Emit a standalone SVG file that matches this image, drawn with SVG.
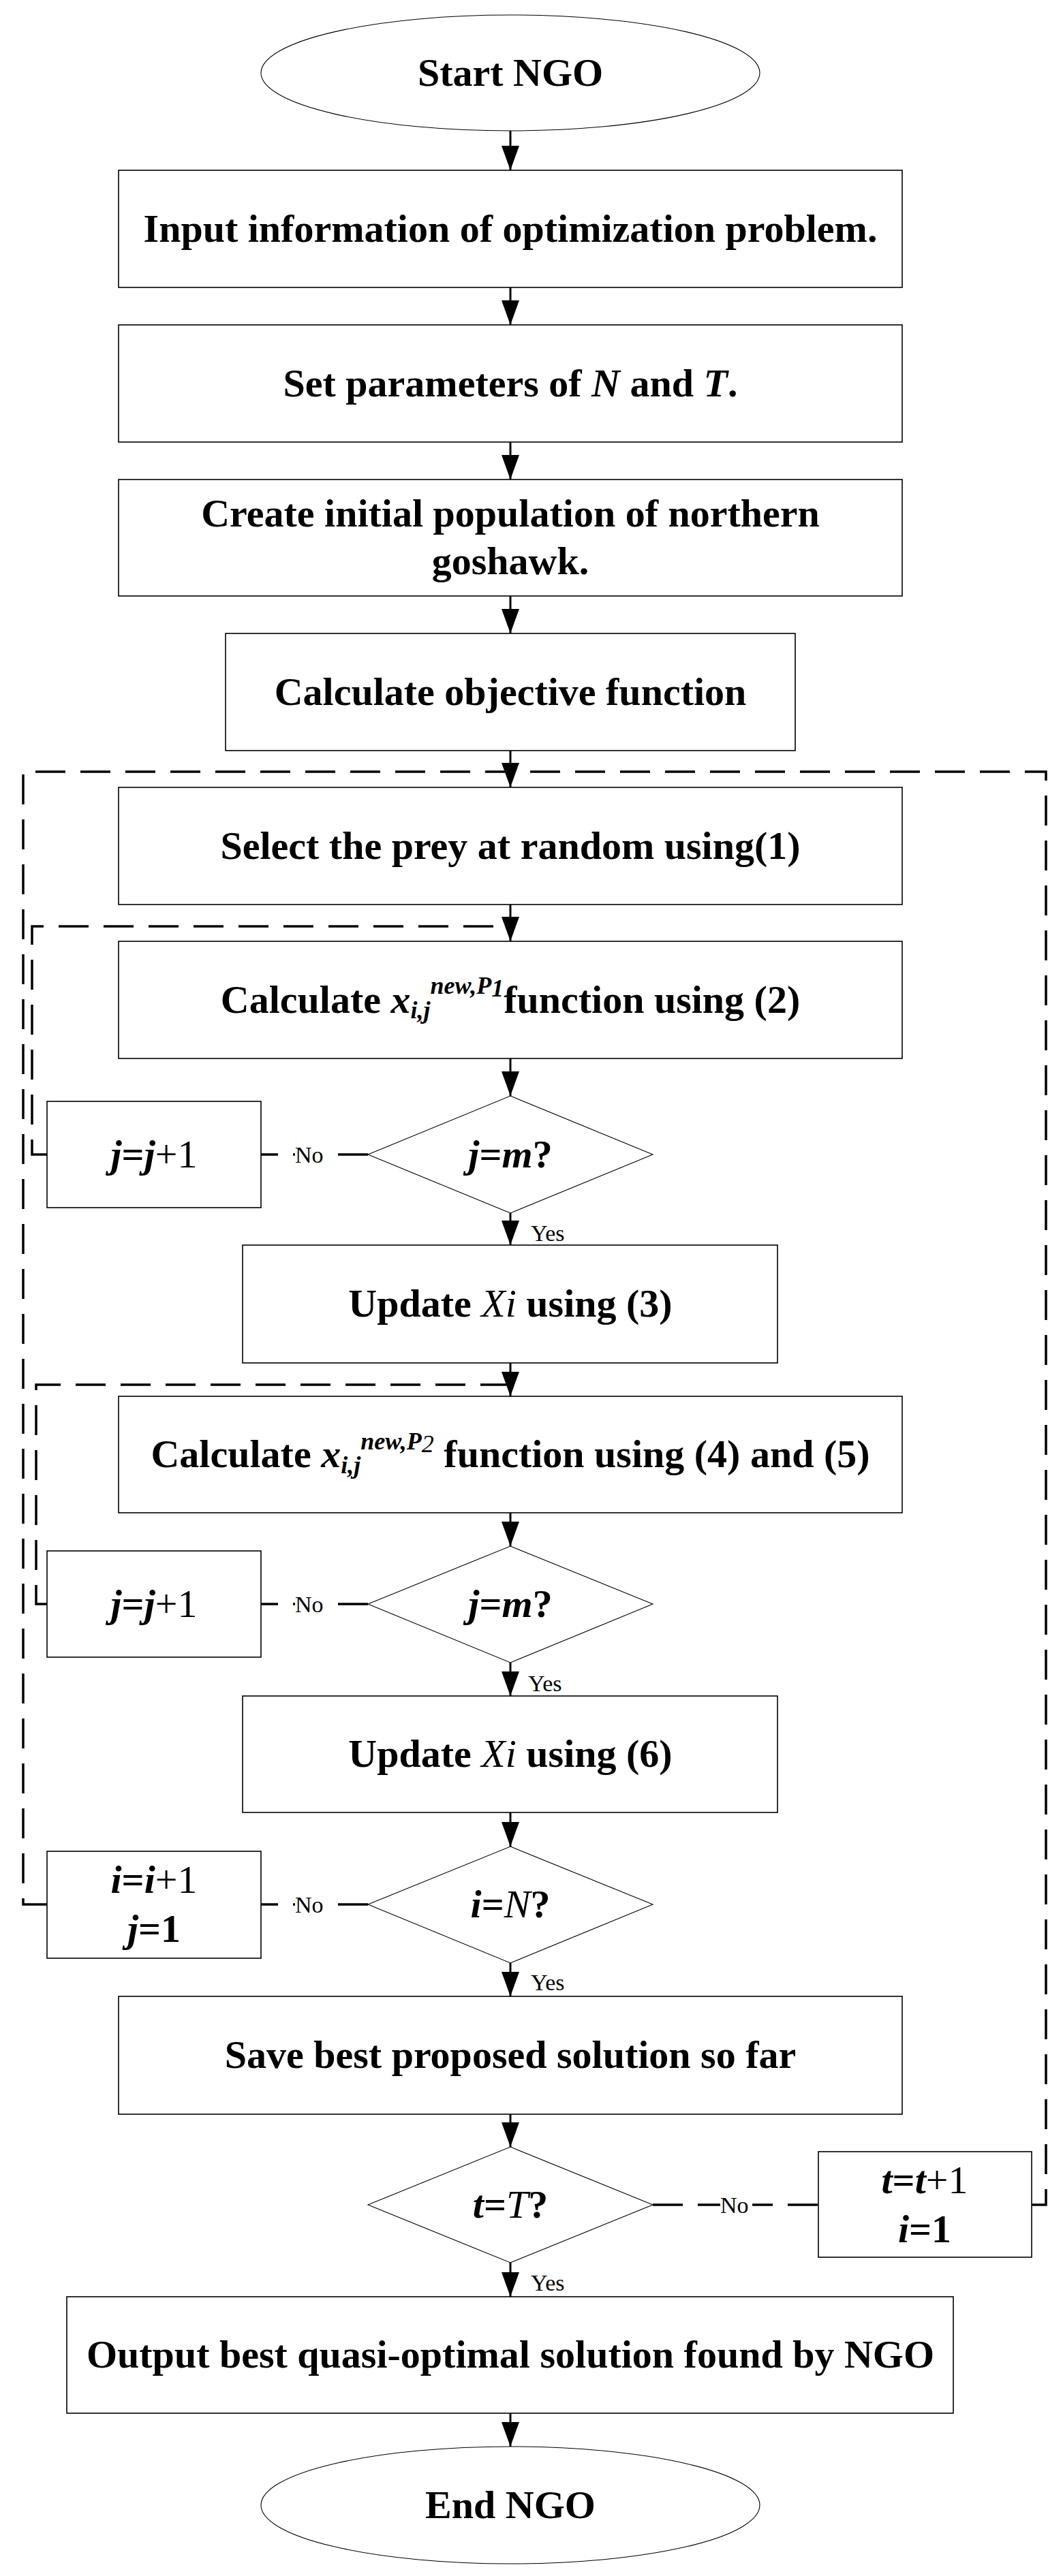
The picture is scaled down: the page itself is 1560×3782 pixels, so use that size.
<svg xmlns="http://www.w3.org/2000/svg" width="1560" height="3782" viewBox="0 0 1560 3782">
<style>
  .bg{fill:#fff}
  .box{fill:#fff;stroke:#000;stroke-width:1.6}
  .shape{fill:#fff;stroke:#000;stroke-width:1.1}
  .t{font-family:"Liberation Serif","Times New Roman",serif;font-size:58px;font-weight:bold;fill:#000;text-anchor:middle}
  .it{font-style:italic}
  .nb{font-weight:normal}
  .sm{font-family:"Liberation Serif","Times New Roman",serif;font-size:34px;fill:#000}
  .sup{font-size:36px;font-style:italic}
  .arrow{stroke:#000;stroke-width:3;fill:none;marker-end:url(#ah)}
  .dash{stroke:#000;stroke-width:3.5;fill:none;stroke-dasharray:44 22}
  .lbl{fill:#fff;stroke:none}
</style>
<defs>
  <marker id="ah" markerUnits="userSpaceOnUse" markerWidth="36" markerHeight="26" refX="36" refY="13" orient="auto">
    <path d="M0,0 L36,13 L0,26 Z" fill="#000"/>
  </marker>
</defs>
<rect class="bg" x="0" y="0" width="1560" height="3782"/>

<g id="connectors">
  <!-- dashed loops -->
  <path class="dash" d="M69,1695 H47 V1360 H749"/>
  <path class="dash" d="M69,2355 H53 V2033 H749"/>
  <path class="dash" d="M69,2796 H34 V1133 H749"/>
  <path class="dash" d="M1514,3237 H1535 V1133 H749"/>
  <!-- No branches -->
  <path class="dash" d="M540,1695 H383"/>
  <path class="dash" d="M540,2355 H383"/>
  <path class="dash" d="M540,2796 H383"/>
  <path class="dash" d="M958,3237 H1201"/>
  <!-- main arrows -->
  <line class="arrow" x1="749" y1="192" x2="749" y2="250"/>
  <line class="arrow" x1="749" y1="422" x2="749" y2="477"/>
  <line class="arrow" x1="749" y1="649" x2="749" y2="704"/>
  <line class="arrow" x1="749" y1="875" x2="749" y2="930"/>
  <line class="arrow" x1="749" y1="1102" x2="749" y2="1156"/>
  <line class="arrow" x1="749" y1="1328" x2="749" y2="1382"/>
  <line class="arrow" x1="749" y1="1554" x2="749" y2="1609"/>
  <line class="arrow" x1="749" y1="1781" x2="749" y2="1828"/>
  <line class="arrow" x1="749" y1="2001" x2="749" y2="2050"/>
  <line class="arrow" x1="749" y1="2221" x2="749" y2="2270"/>
  <line class="arrow" x1="749" y1="2441" x2="749" y2="2490"/>
  <line class="arrow" x1="749" y1="2661" x2="749" y2="2711"/>
  <line class="arrow" x1="749" y1="2882" x2="749" y2="2931"/>
  <line class="arrow" x1="749" y1="3104" x2="749" y2="3152"/>
  <line class="arrow" x1="749" y1="3322" x2="749" y2="3372"/>
  <line class="arrow" x1="749" y1="3543" x2="749" y2="3592"/>
  <!-- labels -->
  <rect class="lbl" x="433" y="1677" width="49" height="36"/>
  <text class="sm" x="433" y="1707">No</text>
  <rect class="lbl" x="433" y="2337" width="49" height="36"/>
  <text class="sm" x="433" y="2367">No</text>
  <rect class="lbl" x="433" y="2778" width="49" height="36"/>
  <text class="sm" x="433" y="2808">No</text>
  <rect class="lbl" x="1057" y="3219" width="47" height="36"/>
  <text class="sm" x="1057" y="3249">No</text>
  <text class="sm" x="779" y="1822">Yes</text>
  <text class="sm" x="775" y="2483">Yes</text>
  <text class="sm" x="779" y="2922">Yes</text>
  <text class="sm" x="779" y="3363">Yes</text>
</g>

<g id="start">
  <ellipse class="shape" cx="749" cy="107" rx="366" ry="85"/>
  <text class="t" x="749" y="126">Start NGO</text>
</g>
<g id="input">
  <rect class="box" x="174" y="250" width="1150" height="172"/>
  <text class="t" x="749" y="355">Input information of optimization problem.</text>
</g>
<g id="setparams">
  <rect class="box" x="174" y="477" width="1150" height="172"/>
  <text class="t" x="749" y="582">Set parameters of <tspan class="it">N</tspan> and <tspan class="it">T</tspan>.</text>
</g>
<g id="create">
  <rect class="box" x="174" y="704" width="1150" height="171"/>
  <text class="t" x="749" y="773">Create initial population of northern</text>
  <text class="t" x="749" y="843">goshawk.</text>
</g>
<g id="objective">
  <rect class="box" x="331" y="930" width="836" height="172"/>
  <text class="t" x="749" y="1035">Calculate objective function</text>
</g>
<g id="select">
  <rect class="box" x="174" y="1156" width="1150" height="172"/>
  <text class="t" x="749" y="1261">Select the prey at random using(1)</text>
</g>
<g id="calcP1">
  <rect class="box" x="174" y="1382" width="1150" height="172"/>
  <text class="t" x="749" y="1487">Calculate <tspan class="it">x</tspan><tspan class="sup" dy="8">i,j</tspan><tspan class="sup" dy="-36">new,P</tspan><tspan class="sup" font-size="30" dy="4">1</tspan><tspan dy="24">function using (2)</tspan></text>
</g>
<g id="check1">
  <polygon class="shape" points="749,1609 958,1695 749,1781 540,1695"/>
  <text class="t" x="749" y="1714"><tspan class="it">j</tspan>=<tspan class="it">m</tspan>?</text>
</g>
<g id="incj1">
  <rect class="box" x="69" y="1617" width="314" height="156"/>
  <text class="t" x="226" y="1714"><tspan class="it">j</tspan>=<tspan class="it">j</tspan><tspan class="nb">+1</tspan></text>
</g>
<g id="update3">
  <rect class="box" x="356" y="1828" width="785" height="173"/>
  <text class="t" x="749" y="1933">Update <tspan class="it nb">Xi</tspan> using (3)</text>
</g>
<g id="calcP2">
  <rect class="box" x="174" y="2050" width="1150" height="171"/>
  <text class="t" x="749" y="2154">Calculate <tspan class="it">x</tspan><tspan class="sup" dy="9">i,j</tspan><tspan class="sup" dy="-35">new,P</tspan><tspan class="sup nb" font-style="normal" font-size="30" dy="4">2</tspan><tspan dy="22"> function using (4) and (5)</tspan></text>
</g>
<g id="check2">
  <polygon class="shape" points="749,2270 958,2355 749,2441 540,2355"/>
  <text class="t" x="749" y="2374"><tspan class="it">j</tspan>=<tspan class="it">m</tspan>?</text>
</g>
<g id="incj2">
  <rect class="box" x="69" y="2277" width="314" height="156"/>
  <text class="t" x="226" y="2374"><tspan class="it">j</tspan>=<tspan class="it">j</tspan><tspan class="nb">+1</tspan></text>
</g>
<g id="update6">
  <rect class="box" x="356" y="2490" width="785" height="171"/>
  <text class="t" x="749" y="2594">Update <tspan class="it nb">Xi</tspan> using (6)</text>
</g>
<g id="check3">
  <polygon class="shape" points="749,2711 958,2796 749,2882 540,2796"/>
  <text class="t" x="749" y="2815"><tspan class="it">i</tspan>=<tspan class="it nb">N</tspan>?</text>
</g>
<g id="inci">
  <rect class="box" x="69" y="2718" width="314" height="157"/>
  <text class="t" x="226" y="2779"><tspan class="it">i</tspan>=<tspan class="it">i</tspan><tspan class="nb">+1</tspan></text>
  <text class="t" x="226" y="2851"><tspan class="it">j</tspan>=1</text>
</g>
<g id="save">
  <rect class="box" x="174" y="2931" width="1150" height="173"/>
  <text class="t" x="749" y="3036">Save best proposed solution so far</text>
</g>
<g id="check4">
  <polygon class="shape" points="749,3152 958,3237 749,3322 540,3237"/>
  <text class="t" x="749" y="3256"><tspan class="it">t</tspan>=<tspan class="it nb">T</tspan>?</text>
</g>
<g id="inct">
  <rect class="box" x="1201" y="3159" width="313" height="155"/>
  <text class="t" x="1357" y="3220"><tspan class="it">t</tspan>=<tspan class="it">t</tspan><tspan class="nb">+1</tspan></text>
  <text class="t" x="1357" y="3292"><tspan class="it">i</tspan>=1</text>
</g>
<g id="output">
  <rect class="box" x="98" y="3372" width="1301" height="171"/>
  <text class="t" x="749" y="3476">Output best quasi-optimal solution found by NGO</text>
</g>
<g id="end">
  <ellipse class="shape" cx="749" cy="3678" rx="366" ry="86"/>
  <text class="t" x="749" y="3697">End NGO</text>
</g>
</svg>
